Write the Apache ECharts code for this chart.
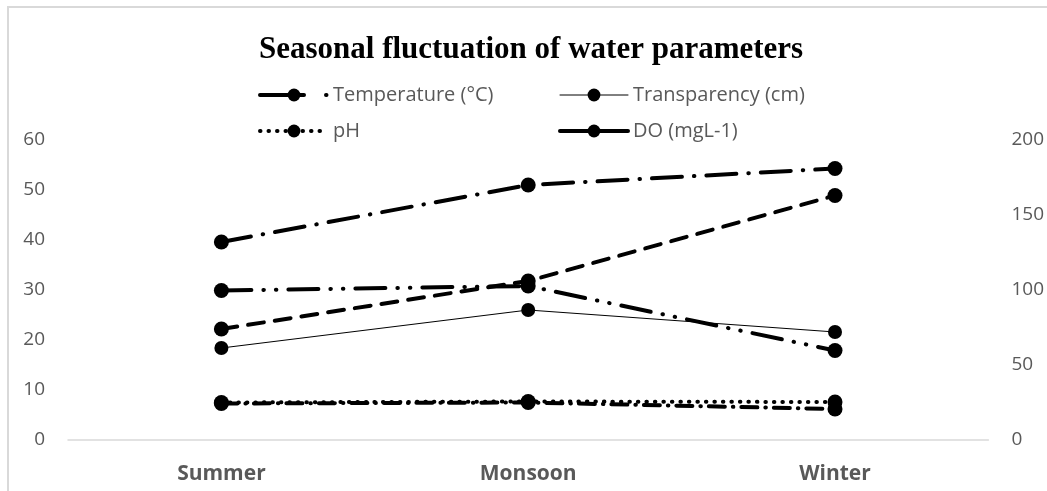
<!DOCTYPE html>
<html>
<head>
<meta charset="utf-8">
<script src="https://cdn.jsdelivr.net/npm/echarts@6/dist/echarts.min.js"></script>
<style>
    html, body { margin: 0; padding: 0; background: #fff; }
    #main { width: 1047px; height: 491px; }
</style>
</head>
<body>
<div id="main"></div>
<script>
const seasons = ['Summer', 'Monsoon', 'Winter']

// left axis series
const temperature = [29.9, 30.8, 17.9]
const transparency = [18.4, 26.0, 21.6]
const ph = [7.5, 7.7, 7.6]
const dissolvedOxygen = [7.3, 7.5, 6.2]
// right axis series (legend entries cut off in the source)
const upperSeries = [132, 170, 181]
const middleSeries = [74, 106, 163]

const leftTicks = { min: 0, max: 60, interval: 10 }
const rightTicks = { min: 0, max: 200, interval: 50 }

const labelColor = '#595959'
const textFont = '"Open Sans", sans-serif'

const chart = echarts.init(document.getElementById('main'))

const lineSeries = (name, data, dash, width, size, axis = 0) => ({
    name,
    type: 'line',
    data,
    yAxisIndex: axis,
    symbol: 'circle',
    symbolSize: size,
    itemStyle: { color: '#000' },
    lineStyle: {
        color: '#000',
        width,
        type: dash,
        cap: 'round',
    },
    emphasis: { disabled: true },
    z: 3,
})

const legendBase = {
    orient: 'vertical',
    top: 80,
    itemWidth: 68,
    itemHeight: 16,
    itemGap: 16,
    selectedMode: false,
    textStyle: {
        color: labelColor,
        fontSize: 20,
        fontFamily: textFont,
    },
}

const legendItem = (name, type, width) => ({
    name,
    lineStyle: { width, type, cap: 'round', color: '#000' },
})

const axisText = { color: labelColor, fontSize: 19, fontFamily: textFont, margin: 23 }

chart.setOption({
    animation: false,
    backgroundColor: '#fff',
    title: {
        text: 'Seasonal fluctuation of water parameters',
        left: 254,
        top: 29,
        textStyle: {
            fontFamily: '"Liberation Serif", serif',
            fontWeight: 'bold',
            fontSize: 31,
            color: '#000',
        },
    },
    graphic: [
        {
            type: 'rect',
            shape: { x: 8, y: 7, width: 1200, height: 700 },
            style: { fill: 'none', stroke: '#d9d9d9', lineWidth: 2 },
            silent: true,
        },
    ],
    legend: [
        {
            ...legendBase,
            left: 253,
            data: [
                legendItem('Temperature (°C)', [44, 22, 0.5, 30], 4),
                legendItem('pH', [0.5, 8], 4),
            ],
        },
        {
            ...legendBase,
            left: 553,
            data: [
                legendItem('Transparency (cm)', 'solid', 1),
                legendItem('DO (mgL-1)', 'solid', 4),
            ],
        },
    ],
    grid: { left: 68, right: 52, top: 140, bottom: 51, containLabel: false },
    xAxis: {
        type: 'category',
        data: seasons,
        axisLine: { lineStyle: { color: '#d9d9d9', width: 1.5 } },
        axisTick: { show: false },
        axisLabel: {
            color: labelColor,
            fontWeight: 'bold',
            fontSize: 21,
            fontFamily: textFont,
            margin: 24,
        },
    },
    yAxis: [
        {
            type: 'value',
            ...leftTicks,
            splitLine: { show: false },
            axisLine: { show: false },
            axisTick: { show: false },
            axisLabel: axisText,
        },
        {
            type: 'value',
            ...rightTicks,
            splitLine: { show: false },
            axisLine: { show: false },
            axisTick: { show: false },
            axisLabel: axisText,
        },
    ],
    series: [
        lineSeries('Temperature (°C)', temperature, [30, 12, 0.5, 12, 0.5, 12], 4, 15),
        lineSeries('Transparency (cm)', transparency, 'solid', 1, 14),
        lineSeries('pH', ph, [0.5, 8], 4, 15),
        lineSeries('DO (mgL-1)', dissolvedOxygen, [16, 8, 0.5, 8], 4, 15),
        lineSeries('Series 5', upperSeries, [30, 12, 0.5, 12], 4, 15, 1),
        lineSeries('Series 6', middleSeries, [16, 11], 4, 15, 1),
    ],
})
</script>
</body>
</html>
